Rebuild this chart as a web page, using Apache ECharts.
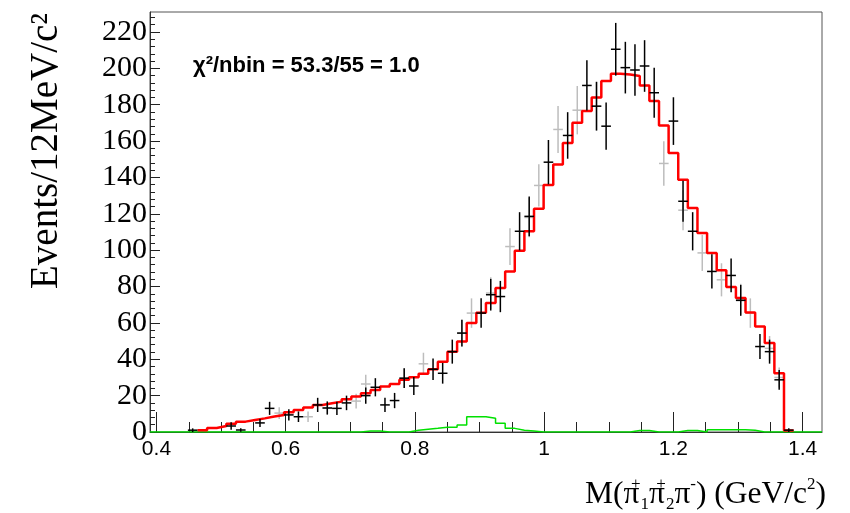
<!DOCTYPE html>
<html><head><meta charset="utf-8">
<script src="https://cdn.jsdelivr.net/npm/echarts@6/dist/echarts.min.js"></script>
<style>html,body{margin:0;padding:0;background:#fff}#c{width:850px;height:513px}</style>
</head><body><div id="c"></div>
<script>
// ---- axis ranges & ticks ----
const xMin = 0.39, xMax = 1.43;
const yMin = 0, yMax = 231;
const xMajorTicks = [0.4, 0.6, 0.8, 1.0, 1.2, 1.4];
const xMinorTicks = [0.4,0.45,0.5,0.55,0.6,0.65,0.7,0.75,0.8,0.85,0.9,0.95,1.0,1.05,1.1,1.15,1.2,1.25,1.3,1.35,1.4];
const yMajorTicks = [0,20,40,60,80,100,120,140,160,180,200,220];
const yMinorTicks = [0,4,8,12,16,20,24,28,32,36,40,44,48,52,56,60,64,68,72,76,80,84,88,92,96,100,104,108,112,116,120,124,128,132,136,140,144,148,152,156,160,164,168,172,176,180,184,188,192,196,200,204,208,212,216,220,224,228];

// ---- histogram binning (bin j spans binStart + j*binWidth ... +binWidth) ----
const binStart = 0.4635;
const binWidth = 0.01488;

// fit (red), bins j = 0..61
const redVals = [1.0,2.2,3.3,4.5,5.7,6.6,7.5,8.5,9.4,10.8,12.1,13.5,14.9,15.8,16.7,18.0,19.5,21.3,23.1,25.0,
  26.4,28.7,30.1,32.0,34.5,38.7,44.2,49.8,59.9,65.6,70.9,79.2,88.3,99.7,110.4,122.8,135.8,147.1,159.0,170.1,
  176.5,184.0,193.0,197.0,196.6,195.8,190.6,182.0,168.6,153.5,138.8,123.2,109.5,98.5,88.9,79.7,73.7,65.7,58.0,48.9,
  32.3,0.8];

// background (green), bins j = -4..63
const greenFirstBin = -4;
const greenVals = [0,0,0,0, 0,0,0,0,0,0,0,0,0,0, 0,0,0,0,0,0,0,0.5,0.5,0, 0,0,1.0,1.5,2.0,2.6,2.6,3.9,8.4,8.4,
  7.5,4.8,2.0,1.0,0.5,0,0,0,0,0, 0,0,0,0,0,0.8,0.8,0,0,0, 0.8,0.8,0,1.2,1.2,1.2,1.2,1.0,0,0, 0,0,0,0];

// data (black)
const blackBins = [-1,3,4,6,7,9,10,12,13,14,15,17,18,19,20,21,22,24,25,26,27,29,30,31,33,34,36,38,40,41,42,43,44,45,46,47,49,50,51,53,55,56,58,59,60,61];
const blackVals = [1.0,3.3,1.1,5.0,13.0,9.4,8.4,14.9,13.2,13.0,16.0,20.0,24.6,14.9,17.3,29.6,25.3,34.5,32.3,44.2,54.4,65.4,75.5,74.5,110.4,118.6,148.4,163.1,190.6,179.2,168.2,210.5,200.4,199.1,201.3,186.6,171.0,126.9,110.4,88.3,86.1,72.4,47.0,44.2,28.7,1.0];
const blackErrs = [1.0,2.0,1.0,2.2,3.6,3.1,2.9,3.9,3.6,3.6,4.0,4.5,5.0,3.9,4.2,5.4,5.0,5.9,5.7,6.6,7.4,8.1,8.7,8.6,10.5,10.9,12.2,12.8,13.8,13.4,13.0,14.5,14.2,14.1,14.2,13.7,13.1,11.3,10.5,9.4,9.3,8.5,6.9,6.6,5.4,1.0];

// second sample (grey)
const grayBins = [8,11,13,16,17,21,23,27,28,30,32,34,35,37,39,41,48,50,52,54,56,57,59,60];
const grayVals = [10.4,8.4,13.2,17.0,26.4,29.6,37.5,54.4,65.4,76.4,102.0,118.0,135.6,166.4,177.0,179.2,147.7,122.0,98.5,83.7,73.0,65.4,46.0,30.0];
const grayErrs = [3.2,2.9,3.6,4.1,5.1,5.4,6.1,7.4,8.1,8.7,10.1,10.9,11.6,12.9,13.3,13.4,12.2,11.0,9.9,9.1,8.5,8.1,6.8,5.5];

// ---- build ----
const edge = j => binStart + binWidth * j;

const redLine = redVals.map((v, k) => [edge(k), v]);
redLine.push([edge(redVals.length), redVals[redVals.length - 1]]);

const greenLine = [[xMin, 0]];
greenVals.forEach((v, k) => greenLine.push([edge(greenFirstBin + k), v]));
greenLine.push([edge(greenFirstBin + greenVals.length), 0]);
greenLine.push([xMax, 0]);

function crossSeries(name, bins, vals, errs, color, z) {
  return {
    type: 'custom', name: name, z: z, clip: true,
    xAxisIndex: 0, yAxisIndex: 0,
    encode: { x: 0, y: 1 },
    data: bins.map((b, k) => [edge(b) + binWidth / 2, vals[k], errs[k]]),
    renderItem: function (params, api) {
      const xc = api.value(0), v = api.value(1), e = api.value(2);
      const l = api.coord([xc - binWidth / 2, v]);
      const r = api.coord([xc + binWidth / 2, v]);
      const t = api.coord([xc, v + e]);
      const b = api.coord([xc, Math.max(v - e, 0)]);
      return { type: 'group', children: [
        { type: 'line', shape: { x1: l[0], y1: l[1], x2: r[0], y2: r[1] }, style: { stroke: color, lineWidth: 1.5 } },
        { type: 'line', shape: { x1: t[0], y1: t[1], x2: b[0], y2: b[1] }, style: { stroke: color, lineWidth: 1.5 } }
      ] };
    }
  };
}

const chart = echarts.init(document.getElementById('c'), null, { renderer: 'canvas' });
const fmt = v => String(+(+v).toFixed(2));
chart.setOption({
  animation: false,
  backgroundColor: '#fff',
  grid: { left: 150, right: 28, top: 12, bottom: 81, show: true, borderColor: '#555', borderWidth: 1 },
  xAxis: [
    { type: 'value', min: xMin, max: xMax, position: 'bottom',
      axisLine: { show: true, onZero: false, lineStyle: { color: '#333', width: 1 } },
      axisTick: { show: true, inside: true, length: 20, customValues: xMajorTicks, lineStyle: { color: '#222', width: 1 } },
      axisLabel: { show: true, customValues: xMajorTicks, formatter: fmt, fontFamily: 'Liberation Sans', fontSize: 21, color: '#000', margin: 7 },
      splitLine: { show: false } },
    { type: 'value', min: xMin, max: xMax, position: 'bottom',
      axisLine: { show: false },
      axisTick: { show: true, inside: true, length: 10, customValues: xMinorTicks, lineStyle: { color: '#222', width: 1 } },
      axisLabel: { show: false }, splitLine: { show: false } }
  ],
  yAxis: [
    { type: 'value', min: yMin, max: yMax, position: 'left',
      axisLine: { show: true, onZero: false, lineStyle: { color: '#333', width: 1 } },
      axisTick: { show: true, inside: true, length: 10, customValues: yMajorTicks, lineStyle: { color: '#222', width: 1 } },
      axisLabel: { show: true, customValues: yMajorTicks, fontFamily: 'Liberation Serif', fontSize: 30, color: '#000', margin: 3 },
      splitLine: { show: false } },
    { type: 'value', min: yMin, max: yMax, position: 'left',
      axisLine: { show: false },
      axisTick: { show: true, inside: true, length: 5, customValues: yMinorTicks, lineStyle: { color: '#222', width: 1 } },
      axisLabel: { show: false }, splitLine: { show: false } }
  ],
  series: [
    { type: 'line', name: 'background', step: 'end', data: greenLine, symbol: 'none', z: 2,
      xAxisIndex: 0, yAxisIndex: 0, lineStyle: { color: '#00e000', width: 1.5 } },
    crossSeries('sample2', grayBins, grayVals, grayErrs, '#bdbdbd', 3),
    { type: 'line', name: 'fit', step: 'end', data: redLine, symbol: 'none', z: 4,
      xAxisIndex: 0, yAxisIndex: 0, lineStyle: { color: '#ff0000', width: 2.5 } },
    crossSeries('data', blackBins, blackVals, blackErrs, '#000000', 5)
  ],
  graphic: [
    { type: 'text', x: 193, y: 66, style: { text: 'χ²/nbin = 53.3/55 = 1.0', fontFamily: 'Liberation Sans', fontWeight: 'bold', fontSize: 22, fill: '#000', verticalAlign: 'middle', align: 'left' } },
    { type: 'text', x: 47, y: 151, rotation: Math.PI / 2, style: { text: 'Events/12MeV/c²', fontFamily: 'Liberation Serif', fontSize: 39, fill: '#000', align: 'center', verticalAlign: 'middle' } },
    { type: 'text', x: 826, y: 495, style: {
        text: 'M(π{s0|+}{b|1}π{s0|+}{b|2}π{s|-}) (GeV/c{s|2})',
        fontFamily: 'Liberation Serif', fontSize: 31.5, fill: '#000', align: 'right', verticalAlign: 'middle', lineHeight: 37,
        rich: {
          s0: { fontFamily: 'Liberation Serif', fontSize: 17, lineHeight: 17, width: 1, verticalAlign: 'top', fill: '#000' },
          s: { fontFamily: 'Liberation Serif', fontSize: 17, lineHeight: 17, verticalAlign: 'top', fill: '#000' },
          b: { fontFamily: 'Liberation Serif', fontSize: 17, lineHeight: 17, verticalAlign: 'bottom', fill: '#000' }
        } } }
  ]
});
</script></body></html>
